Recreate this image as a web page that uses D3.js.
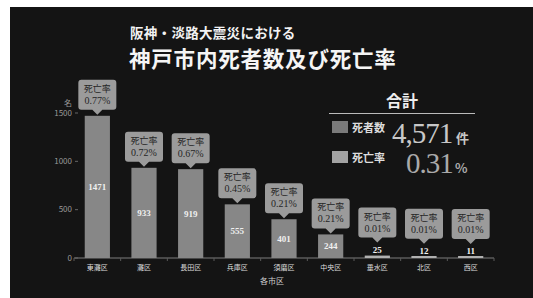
<!DOCTYPE html>
<html>
<head>
<meta charset="utf-8">
<script src="https://cdn.jsdelivr.net/npm/d3@7"></script>
<style>
  body { margin: 0; background: #fff; }
  svg { display: block; }
</style>
</head>
<body>
<svg id="chart"></svg>
<script>
// data
const wards = ["東灘区", "灘区", "長田区", "兵庫区", "須磨区", "中央区", "垂水区", "北区", "西区"];
const deaths = [1471, 933, 919, 555, 401, 244, 25, 12, 11];
const rates = [0.77, 0.72, 0.67, 0.45, 0.21, 0.21, 0.01, 0.01, 0.01];
const yTicks = [0, 500, 1000, 1500];
const totalDeaths = "4,571";
const totalRate = "0.31";

const W = 533, H = 298;
const sans = "'Noto Sans CJK JP', 'Noto Sans', sans-serif";
const serif = "'Liberation Serif', 'DejaVu Serif', serif";

const data = wards.map((w, i) => ({ward: w, count: deaths[i], rate: rates[i]}));

const svg = d3.select("#chart")
    .attr("width", W)
    .attr("height", H)
    .attr("viewBox", [0, 0, W, H]);

// dark panel
svg.append("rect")
    .attr("x", 10).attr("y", 7)
    .attr("width", W - 10).attr("height", H - 7)
    .attr("fill", "#141414");

// titles
svg.append("text")
    .attr("x", 130).attr("y", 38)
    .style("font", `bold 13.5px ${sans}`)
    .attr("letter-spacing", "0.3px")
    .attr("fill", "#f2f2f2")
    .text("阪神・淡路大震災における");

svg.append("text")
    .attr("x", 129).attr("y", 67)
    .style("font", `bold 21.5px ${sans}`)
    .attr("letter-spacing", "0.8px")
    .attr("fill", "#f5f5f5")
    .text("神戸市内死者数及び死亡率");

const x = d3.scaleBand()
    .domain(wards)
    .range([74, 494])
    .paddingInner(0.46)
    .paddingOuter(0.23);

const y = d3.scaleLinear()
    .domain([0, 1500])
    .range([258, 113]);

const step = x.step();

// x axis line + ticks between bands
const g = svg.append("g");
g.append("line")
    .attr("x1", x.range()[0]).attr("x2", x.range()[1])
    .attr("y1", y(0)).attr("y2", y(0))
    .attr("stroke", "#5a5a5a").attr("stroke-width", 1.5);

const edges = wards.map(w => x(w) + x.bandwidth() / 2 - step / 2).concat([x.range()[1]]);
g.selectAll(".xtick")
    .data(edges)
    .join("line")
    .attr("x1", d => d).attr("x2", d => d)
    .attr("y1", y(0)).attr("y2", y(0) + 3)
    .attr("stroke", "#5a5a5a");

// y axis labels
g.selectAll(".ytick")
    .data(yTicks)
    .join("g")
    .attr("transform", d => `translate(0,${y(d)})`)
    .call(s => s.append("line")
        .attr("x1", 75).attr("x2", 78)
        .attr("stroke", "#666"))
    .call(s => s.append("text")
        .attr("x", 72).attr("dy", "0.35em")
        .attr("text-anchor", "end")
        .style("font", `8px ${sans}`)
        .attr("fill", "#9a9a9a")
        .text(d => d));

svg.append("text")
    .attr("x", 68).attr("y", 106)
    .attr("text-anchor", "middle")
    .style("font", `8px ${sans}`)
    .attr("fill", "#9a9a9a")
    .text("名");

// category labels
g.selectAll(".xlabel")
    .data(wards)
    .join("text")
    .attr("x", d => x(d) + x.bandwidth() / 2)
    .attr("y", 270)
    .attr("text-anchor", "middle")
    .style("font", `7px ${sans}`)
    .attr("fill", "#dddddd")
    .text(d => d);

svg.append("text")
    .attr("x", 272).attr("y", 284)
    .attr("text-anchor", "middle")
    .style("font", `8px ${sans}`)
    .attr("fill", "#cfcfcf")
    .text("各市区");

// bars
const bars = svg.append("g");
bars.selectAll("rect")
    .data(data)
    .join("rect")
    .attr("x", d => x(d.ward))
    .attr("y", d => Math.min(y(d.count), y(0) - 2))
    .attr("width", x.bandwidth())
    .attr("height", d => Math.max(y(0) - y(d.count), 2))
    .attr("fill", d => d.count < 100 ? "#b0b0b0" : "#878787");

// bar values: inside for tall bars, above for tiny ones
const inside = d => y(0) - y(d.count) > 16;
bars.selectAll(".val")
    .data(data)
    .join("text")
    .attr("x", d => x(d.ward) + x.bandwidth() / 2)
    .attr("y", d => inside(d) ? (y(d.count) + y(0)) / 2 : y(d.count) - 3)
    .attr("dy", d => inside(d) ? "0.35em" : 0)
    .attr("text-anchor", "middle")
    .style("font", `bold 9px ${serif}`)
    .attr("fill", "#f0f0f0")
    .text(d => d.count);

// rate callouts
const bw = 38, bh = 30, tip = 5;
const callout = svg.append("g").selectAll("g")
    .data(data)
    .join("g")
    .attr("transform", d => {
        const cx = x(d.ward) + x.bandwidth() / 2;
        const bottom = (inside(d) ? y(d.count) : y(d.count) - 12) - 6;
        return `translate(${cx},${bottom})`;
    });

callout.append("path")
    .attr("d", () => {
        const r = 3, l = -bw / 2, rr = bw / 2, t = -bh;
        return `M${l + r},${t} H${rr - r} Q${rr},${t} ${rr},${t + r} V${-r} Q${rr},0 ${rr - r},0`
            + ` H${tip} L0,${tip} L${-tip},0 H${l + r} Q${l},0 ${l},${-r} V${t + r} Q${l},${t} ${l + r},${t} Z`;
    })
    .attr("fill", "#9b9b9b");

callout.append("text")
    .attr("y", -18)
    .attr("text-anchor", "middle")
    .style("font", `9px ${sans}`)
    .attr("fill", "#262626")
    .text("死亡率");

callout.append("text")
    .attr("y", -6)
    .attr("text-anchor", "middle")
    .style("font", `10px ${serif}`)
    .attr("fill", "#262626")
    .text(d => d.rate.toFixed(2) + "%");

// totals legend
const lg = svg.append("g");
lg.append("text")
    .attr("x", 402).attr("y", 107)
    .attr("text-anchor", "middle")
    .style("font", `bold 16px ${sans}`)
    .attr("fill", "#eeeeee")
    .text("合計");
lg.append("line")
    .attr("x1", 329).attr("x2", 475)
    .attr("y1", 113.5).attr("y2", 113.5)
    .attr("stroke", "#bbbbbb");

const rows = [
    {label: "死者数", value: totalDeaths, unit: "件", sw: "#7b7b7b", fill: "#c8c8c8", y: 121, vx: 392, ux: 456},
    {label: "死亡率", value: totalRate, unit: "%", sw: "#a3a3a3", fill: "#aaaaaa", y: 151, vx: 406, ux: 455}
];
rows.forEach(r => {
    lg.append("rect")
        .attr("x", 332).attr("y", r.y)
        .attr("width", 16).attr("height", 12)
        .attr("fill", r.sw);
    lg.append("text")
        .attr("x", 352).attr("y", r.y + 11)
        .style("font", `bold 11px ${sans}`)
        .attr("fill", "#dddddd")
        .text(r.label);
    lg.append("text")
        .attr("x", r.vx).attr("y", r.y + 22)
        .style("font", `29px ${serif}`)
        .attr("letter-spacing", "-1px")
        .attr("fill", r.fill)
        .text(r.value);
    lg.append("text")
        .attr("x", r.ux).attr("y", r.y + 22)
        .style("font", `bold 13px ${sans}`)
        .attr("fill", r.fill)
        .text(r.unit);
});
</script>
</body>
</html>
